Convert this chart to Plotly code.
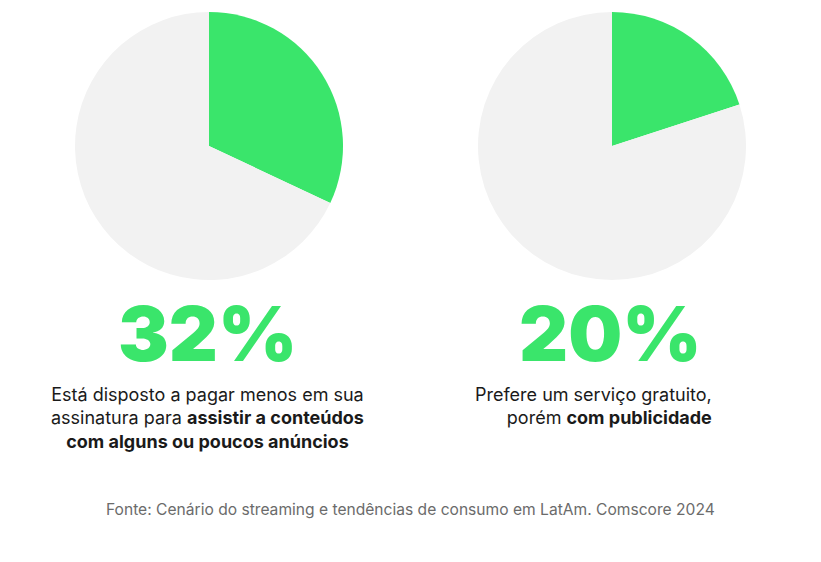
import plotly.graph_objects as go

labels = ["Sim", "Outros"]
pie1_values = [32, 68]
pie2_values = [20, 80]
big_labels = ["32%", "20%"]
caption1 = ["Está disposto a pagar menos em sua",
            "assinatura para <b>assistir a conteúdos</b>",
            "<b>com alguns ou poucos anúncios</b>"]
caption2 = ["Prefere um serviço gratuito,",
            "porém <b>com publicidade</b>"]
source = "Fonte: Cenário do streaming e tendências de consumo em LatAm. Comscore 2024"

W, H = 821, 562
GREEN = "#3AE56B"
GREY = "#F2F2F2"

def dom(cx, cy, r):
    return dict(x=[(cx - r) / W, (cx + r) / W], y=[(H - cy - r) / H, (H - cy + r) / H])

fig = go.Figure()
for vals, (cx, cy) in [(pie1_values, (209, 146)), (pie2_values, (612, 146))]:
    fig.add_trace(go.Pie(
        labels=labels, values=vals, sort=False, direction="clockwise", rotation=0,
        marker=dict(colors=[GREEN, GREY], line=dict(width=0)),
        textinfo="none", hoverinfo="label+percent", showlegend=False,
        domain=dom(cx, cy, 134),
    ))

annotations = []
for txt, x in zip(big_labels, [207, 610]):
    annotations.append(dict(text=txt, x=x / W, y=1 - 381 / H, xref="paper", yref="paper",
                            xanchor="center", yanchor="bottom", showarrow=False,
                            font=dict(family="Inter", size=76, color=GREEN, weight=900)))

annotations.append(dict(text="<br>".join(caption1), x=208 / W, y=1 - 382 / H, xref="paper", yref="paper",
                        xanchor="center", yanchor="top", align="center", showarrow=False,
                        font=dict(family="Inter", size=18, color="#1A1A1A")))
annotations.append(dict(text="<br>".join(caption2), x=714 / W, y=1 - 382 / H, xref="paper", yref="paper",
                        xanchor="right", yanchor="top", align="right", showarrow=False,
                        font=dict(family="Inter", size=18, color="#1A1A1A")))
annotations.append(dict(text=source, x=410 / W, y=1 - 509 / H, xref="paper", yref="paper",
                        xanchor="center", yanchor="middle", showarrow=False,
                        font=dict(family="Inter", size=15.6, color="#6B6B6B")))

fig.update_layout(width=W, height=H, margin=dict(l=0, r=0, t=0, b=0),
                  paper_bgcolor="white", plot_bgcolor="white", annotations=annotations)
fig.write_html("out.html")
